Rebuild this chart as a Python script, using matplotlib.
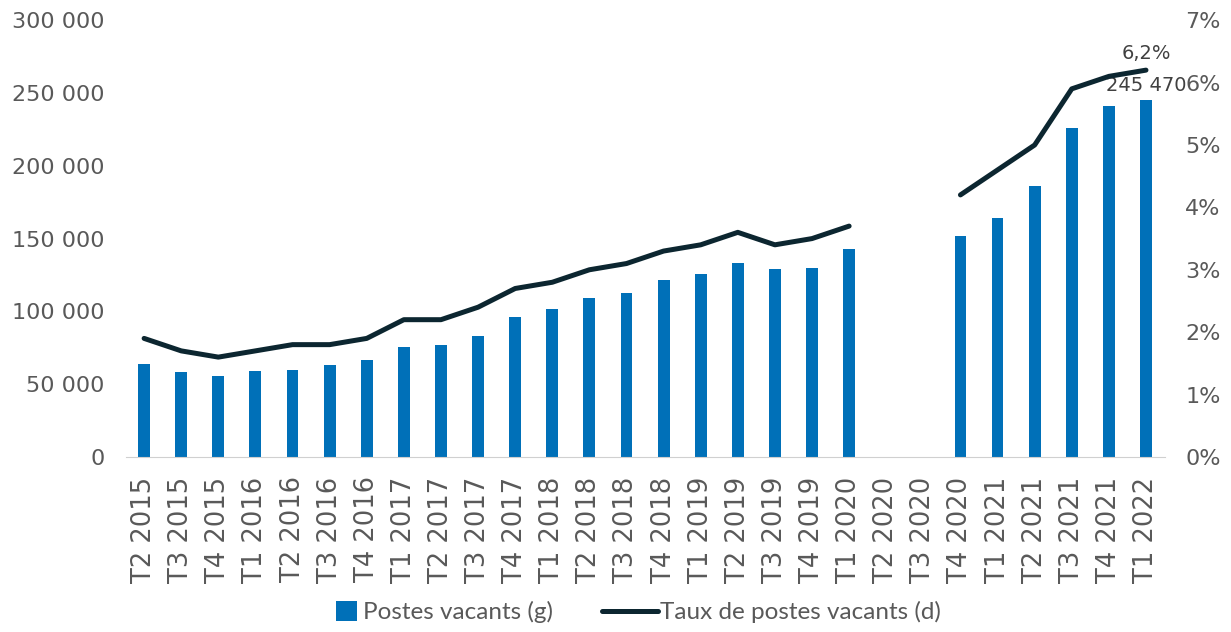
import numpy as np
import matplotlib.pyplot as plt
from matplotlib.patches import Patch, Rectangle
from matplotlib.legend_handler import HandlerPatch
from matplotlib.ticker import FuncFormatter, MultipleLocator

plt.rcParams['font.family'] = ['DejaVu Sans']

trimestres = ['T2 2015', 'T3 2015', 'T4 2015', 'T1 2016', 'T2 2016', 'T3 2016',
              'T4 2016', 'T1 2017', 'T2 2017', 'T3 2017', 'T4 2017', 'T1 2018',
              'T2 2018', 'T3 2018', 'T4 2018', 'T1 2019', 'T2 2019', 'T3 2019',
              'T4 2019', 'T1 2020', 'T2 2020', 'T3 2020', 'T4 2020', 'T1 2021',
              'T2 2021', 'T3 2021', 'T4 2021', 'T1 2022']
postes = [64000, 58500, 55800, 59000, 59800, 63200, 66700, 75500, 77000, 83000,
          96000, 101700, 109000, 112700, 121500, 125700, 133000, 129200, 129800,
          142800, np.nan, np.nan, 151700, 164000, 186000, 225800, 241000, 245470]
taux = [1.9, 1.7, 1.6, 1.7, 1.8, 1.8, 1.9, 2.2, 2.2, 2.4, 2.7, 2.8, 3.0, 3.1,
        3.3, 3.4, 3.6, 3.4, 3.5, 3.7, np.nan, np.nan, 4.2, 4.6, 5.0, 5.9, 6.1, 6.2]

bleu = '#0070b8'
noir = '#0c2630'
gris = '#595959'

x = np.arange(len(trimestres))

fig = plt.figure(figsize=(12.31, 6.32), dpi=100)
ax = fig.add_axes([0.102, 0.277, 0.844, 0.691])
ax2 = ax.twinx()

ax.bar(x, postes, width=0.32, color=bleu, zorder=2)
ligne, = ax2.plot(x, taux, color=noir, lw=3.6, solid_capstyle='round',
                  label='Taux de postes vacants (d)', zorder=3)

ax.set_xlim(-0.5, len(trimestres) - 0.5)
ax.set_ylim(0, 300000)
ax2.set_ylim(0, 7)
ax.yaxis.set_major_locator(MultipleLocator(50000))
ax2.yaxis.set_major_locator(MultipleLocator(1))
ax.yaxis.set_major_formatter(FuncFormatter(lambda v, p: f'{int(v):,}'.replace(',', ' ')))
ax2.yaxis.set_major_formatter(FuncFormatter(lambda v, p: f'{int(v)}%'))

ax.set_xticks(x)
ax.set_xticklabels(trimestres, rotation=90)

for a in (ax, ax2):
    for s in ('top', 'left', 'right', 'bottom'):
        a.spines[s].set_visible(False)
    a.tick_params(length=0, labelsize=16, labelcolor=gris)
ax.spines['bottom'].set_visible(True)
ax.spines['bottom'].set_color('#d0d0d0')
ax.tick_params(axis='y', pad=15)
ax.tick_params(axis='x', pad=14, labelsize=18.5)
ax2.tick_params(axis='y', pad=15)

# étiquettes sur le dernier point
ax.text(x[-1], postes[-1] + 3000, '245 470', ha='center', va='bottom',
        fontsize=14, color='#404040')
ax2.text(x[-1], taux[-1] + 0.12, '6,2%', ha='center', va='bottom',
         fontsize=14, color='#404040')


def carre(legend, orig_handle, xdescent, ydescent, width, height, fontsize):
    cote = height * 1.25
    return Rectangle((xdescent + width - cote - 0.25 * height, ydescent - height * 0.1),
                     cote, height * 1.2)


barre = Patch(facecolor=bleu, label='Postes vacants (g)')
fig.legend([barre, ligne], [barre.get_label(), ligne.get_label()],
           loc='center', bbox_to_anchor=(0.506, 0.031),
           ncol=2, frameon=False, labelcolor=gris,
           prop={'family': 'Lato', 'size': 17.5},
           handlelength=2.3, columnspacing=2.0, handletextpad=0.08,
           handler_map={Patch: HandlerPatch(patch_func=carre)})

fig.savefig('out.png', dpi=100)
